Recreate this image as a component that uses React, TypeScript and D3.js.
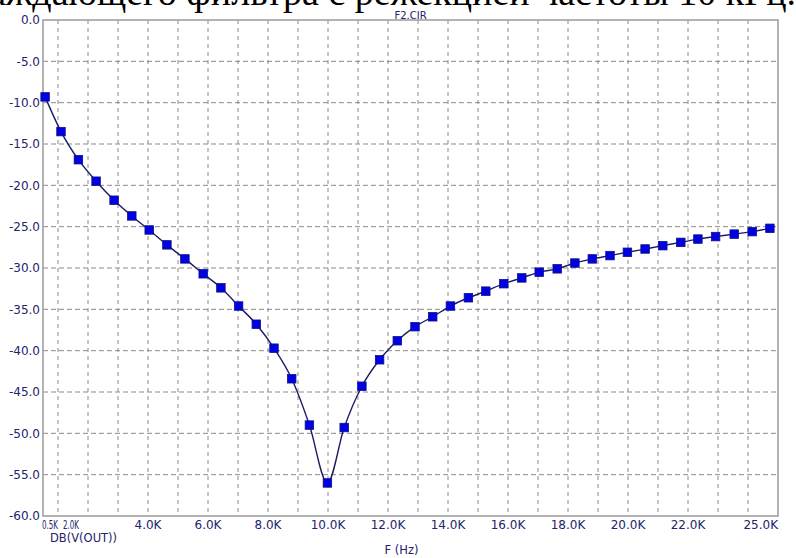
import React, { useRef, useEffect } from 'react';
import * as d3 from 'd3';

// frequency of each marker, in kHz
const freqK = [0.57, 1.1, 1.68, 2.27, 2.87, 3.46, 4.04, 4.63, 5.23, 5.84, 6.43, 7.02, 7.61, 8.2, 8.79, 9.38, 9.98,
  10.54, 11.13, 11.72, 12.31, 12.9, 13.49, 14.08, 14.68, 15.26, 15.86, 16.46, 17.04, 17.64, 18.23, 18.81, 19.4,
  19.98, 20.57, 21.16, 21.76, 22.33, 22.92, 23.54, 24.14, 24.73];
// DB(V(OUT)) at each marker
const dbOut = [-9.3, -13.5, -16.9, -19.5, -21.8, -23.7, -25.4, -27.2, -28.9, -30.7, -32.4, -34.6, -36.8, -39.7, -43.4,
  -49.0, -56.0, -49.3, -44.3, -41.1, -38.8, -37.1, -35.9, -34.6, -33.6, -32.8, -31.9, -31.2, -30.5, -30.1, -29.4,
  -28.9, -28.5, -28.1, -27.7, -27.3, -26.9, -26.5, -26.2, -25.9, -25.6, -25.2];

const xTicks = [0.5, 2, 4, 6, 8, 10, 12, 14, 16, 18, 20, 22, 25];
const xGrid = [1, 2, 3, 4, 5, 6, 7, 8, 9, 10, 11, 12, 13, 14, 15, 16, 17, 18, 19, 20, 21, 22, 23, 24];
const yTicks = [0, -5, -10, -15, -20, -25, -30, -35, -40, -45, -50, -55, -60];

const title = 'F2.CIR';
const yName = 'DB(V(OUT))';
const xName = 'F (Hz)';
const caption = 'заграждающего фильтра с режекцией частоты 10 кГц.';

export default function App() {
  const ref = useRef<SVGSVGElement>(null);

  useEffect(() => {
    document.body.style.margin = '0';
    var width = 796;
    var height = 558;
    var left = 43, right = 778, top = 20, bottom = 516;
    var textColor = '#23236e';
    var font = '"DejaVu Sans", sans-serif';

    var svg = d3.select(ref.current);
    svg.selectAll('*').remove();
    svg.append('rect').attr('width', width).attr('height', height).attr('fill', '#fff');

    var x = d3.scaleLinear().domain([0.5, 25]).range([left, right]);
    var y = d3.scaleLinear().domain([-60, 0]).range([bottom, top]);

    // clipped line of the scanned page above the chart (only its lower part shows)
    svg.append('text')
      .attr('x', 796).attr('y', 5)
      .attr('text-anchor', 'end')
      .attr('font-family', '"Liberation Serif", serif')
      .attr('font-size', 38)
      .attr('fill', '#000')
      .text(caption);

    // grid
    svg.append('g').selectAll('line').data(xGrid).enter().append('line')
      .attr('x1', d => x(d)).attr('x2', d => x(d))
      .attr('y1', top).attr('y2', bottom)
      .attr('stroke', '#8a8a8a').attr('stroke-width', 1)
      .attr('stroke-dasharray', '4,4');
    svg.append('g').selectAll('line').data(yTicks.filter(d => d !== 0 && d !== -60)).enter().append('line')
      .attr('x1', left).attr('x2', right)
      .attr('y1', d => y(d)).attr('y2', d => y(d))
      .attr('stroke', '#8a8a8a').attr('stroke-width', 1)
      .attr('stroke-dasharray', '5,3');

    // frame
    svg.append('rect')
      .attr('x', left).attr('y', top)
      .attr('width', right - left).attr('height', bottom - top)
      .attr('fill', 'none').attr('stroke', '#9a9a9a').attr('stroke-width', 1.5);

    // y labels
    svg.append('g').selectAll('text').data(yTicks).enter().append('text')
      .attr('x', left - 3).attr('y', d => y(d))
      .attr('dy', '0.36em')
      .attr('text-anchor', 'end')
      .attr('font-family', font).attr('font-size', 12)
      .attr('fill', textColor)
      .text(d => d.toFixed(1));

    // x labels - first and last are pinned to the frame, 2.0K is squeezed next to 0.5K
    var n = xTicks.length;
    svg.append('g').selectAll('text').data(xTicks).enter().append('text')
      .attr('x', (d, i) => i === 0 ? x(d) - 1 : i === 1 ? x(xTicks[0]) + 20 : x(d))
      .attr('y', bottom + 13)
      .attr('text-anchor', (d, i) => i === 0 || i === 1 ? 'start' : i === n - 1 ? 'end' : 'middle')
      .attr('textLength', (d, i) => i < 2 ? 16 : null)
      .attr('lengthAdjust', 'spacingAndGlyphs')
      .attr('font-family', font).attr('font-size', 12)
      .attr('fill', textColor)
      .text(d => d.toFixed(1) + 'K');

    svg.append('text')
      .attr('x', 50).attr('y', bottom + 26)
      .attr('font-family', font).attr('font-size', 11.5)
      .attr('fill', textColor)
      .text(yName);

    svg.append('text')
      .attr('x', (left + right) / 2 - 9).attr('y', bottom + 38)
      .attr('text-anchor', 'middle')
      .attr('font-family', font).attr('font-size', 11.5)
      .attr('fill', textColor)
      .text(xName);

    svg.append('text')
      .attr('x', (left + right) / 2).attr('y', top - 1)
      .attr('text-anchor', 'middle')
      .attr('font-family', font).attr('font-size', 10)
      .attr('fill', textColor)
      .text(title);

    // curve + square markers
    var data = freqK.map((f, i) => ({ f: f, v: dbOut[i] }));
    var line = d3.line<{ f: number; v: number }>()
      .x(d => x(d.f))
      .y(d => y(d.v))
      .curve(d3.curveMonotoneX);
    svg.append('path')
      .datum(data)
      .attr('d', line)
      .attr('fill', 'none')
      .attr('stroke', '#1c1c66')
      .attr('stroke-width', 1.4);

    var s = 8.5;
    svg.append('g').selectAll('rect').data(data).enter().append('rect')
      .attr('x', d => x(d.f) - s / 2)
      .attr('y', d => y(d.v) - s / 2)
      .attr('width', s).attr('height', s)
      .attr('fill', '#0000e0')
      .attr('stroke', '#10108a').attr('stroke-width', 0.8);
  }, []);

  return <svg ref={ref} width={796} height={558} style={{ display: 'block' }} />;
}
